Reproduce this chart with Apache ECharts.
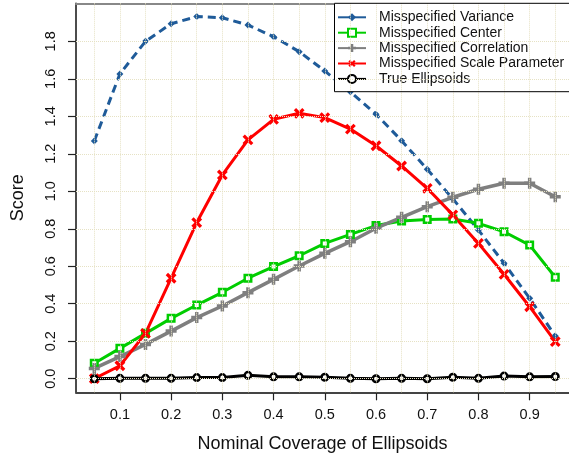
<!DOCTYPE html>
<html><head><meta charset="utf-8">
<script src="https://cdn.jsdelivr.net/npm/echarts@6/dist/echarts.min.js"></script>
<style>html,body{margin:0;padding:0;background:#fff}#c{width:569px;height:460px}</style>
</head><body><div id="c"></div>
<script>
const coverage = [0.05,0.1,0.15,0.2,0.25,0.3,0.35,0.4,0.45,0.5,0.55,0.6,0.65,0.7,0.75,0.8,0.85,0.9,0.95];
const variance = [1.268,1.626,1.800,1.894,1.932,1.926,1.887,1.825,1.745,1.642,1.531,1.411,1.270,1.117,0.96,0.793,0.616,0.429,0.228];
const center = [0.082,0.162,0.242,0.322,0.393,0.461,0.536,0.598,0.656,0.722,0.770,0.817,0.841,0.850,0.852,0.829,0.784,0.713,0.541];
const correlation = [0.055,0.118,0.183,0.254,0.326,0.388,0.459,0.530,0.601,0.669,0.731,0.803,0.861,0.918,0.968,1.011,1.043,1.043,0.971];
const scaleParam = [0.0,0.069,0.242,0.536,0.833,1.087,1.274,1.384,1.416,1.393,1.332,1.243,1.135,1.016,0.874,0.722,0.557,0.384,0.198];
const trueEll = [0.0,0.002,0.002,0.002,0.006,0.006,0.018,0.010,0.010,0.008,0.002,0.0,0.002,0.0,0.008,0.002,0.014,0.010,0.012];
const seriesNames = ['Misspecified Variance','Misspecified Center','Misspecified Correlation','Misspecified Scale Parameter','True Ellipsoids'];
const xTicks = [0.1,0.2,0.3,0.4,0.5,0.6,0.7,0.8,0.9];
const yTicks = [0.0,0.2,0.4,0.6,0.8,1.0,1.2,1.4,1.6,1.8];
const xGridLines = [0.05,0.1,0.15,0.2,0.25,0.3,0.35,0.4,0.45,0.5,0.55,0.6,0.65,0.7,0.75,0.8,0.85,0.9,0.95];

const XMIN = 0.0143, XMAX = 0.9768, YMIN = -0.0726, YMAX = 2.003;
const FONT = 'Liberation Sans, Arial, Helvetica, sans-serif';
const pts = arr => coverage.map((x, i) => [x, arr[i]]);
const plusPath = 'path://M3.75,0H7.25V11H3.75Z M0,3.75H11V7.25H0Z';
const crossPath = 'path://M4,0H7V11H4Z M0,4H11V7H0Z';

const chart = echarts.init(document.getElementById('c'), null, {renderer: 'canvas'});
chart.setOption({
  animation: false,
  backgroundColor: '#fff',
  textStyle: {fontFamily: FONT},
  grid: {left: 76, right: 0, top: 3.3, bottom: 67.7, containLabel: false},
  graphic: [{
    type: 'rect', z: 10, silent: true,
    shape: {x: 334.5, y: 3.3, width: 260, height: 88.4},
    style: {fill: 'none', stroke: '#000', lineWidth: 1}
  }],
  legend: {
    orient: 'vertical', left: 334, top: 3,
    padding: [6.8, 10, 5.2, 3],
    itemWidth: 28, itemHeight: 10, itemGap: 0.4,
    borderWidth: 0,
    backgroundColor: '#fff',
    textStyle: {fontSize: 14, color: '#111', lineHeight: 15, padding: [0, 0, 0, 8], fontFamily: FONT},
    lineStyle: {type: 'solid'},
    data: seriesNames
  },
  xAxis: [{
    type: 'value', min: XMIN, max: XMAX, position: 'bottom',
    name: 'Nominal Coverage of Ellipsoids', nameLocation: 'middle', nameGap: 43,
    nameTextStyle: {fontSize: 18, color: '#111', fontFamily: FONT},
    axisLine: {show: true, onZero: false, lineStyle: {color: '#444', width: 2}},
    axisTick: {show: true, length: 8, customValues: xTicks, lineStyle: {color: '#222', width: 1.2}},
    axisLabel: {show: true, customValues: xTicks, fontSize: 14.5, color: '#111', margin: 15,
      formatter: v => v.toFixed(1)},
    splitLine: {show: false}
  }, {
    type: 'value', min: XMIN, max: XMAX, position: 'top',
    axisLine: {show: true, onZero: false, lineStyle: {color: '#888', width: 2}},
    axisTick: {show: false}, axisLabel: {show: false}, splitLine: {show: false}
  }],
  yAxis: [{
    type: 'value', min: YMIN, max: YMAX, position: 'left',
    name: 'Score', nameLocation: 'middle', nameGap: 49, nameRotate: 90,
    nameTextStyle: {fontSize: 18, color: '#111', fontFamily: FONT},
    axisLine: {show: true, onZero: false, lineStyle: {color: '#111', width: 1.5}},
    axisTick: {show: true, length: 8, customValues: yTicks, lineStyle: {color: '#222', width: 1.2}},
    axisLabel: {show: true, customValues: yTicks, fontSize: 14.5, color: '#111', rotate: 90, margin: 18,
      formatter: v => v.toFixed(1)},
    splitLine: {show: false}
  }],
  series: [
    {
      name: seriesNames[0], type: 'line', data: pts(variance), z: 2,
      symbol: 'diamond', symbolSize: 7,
      lineStyle: {color: '#1f5b99', width: 3, type: [8, 5]},
      itemStyle: {color: '#1f5b99'}
    },
    {
      name: seriesNames[1], type: 'line', data: pts(center), z: 2,
      symbol: 'rect', symbolSize: 6.5,
      lineStyle: {color: '#00cd00', width: 3},
      itemStyle: {color: '#fff', borderColor: '#00cd00', borderWidth: 2.5}
    },
    {
      name: seriesNames[2], type: 'line', data: pts(correlation), z: 2,
      symbol: plusPath, symbolSize: 11,
      lineStyle: {color: '#7f7f7f', width: 3.5},
      itemStyle: {color: '#7f7f7f'}
    },
    {
      name: seriesNames[3], type: 'line', data: pts(scaleParam), z: 2,
      symbol: crossPath, symbolSize: 12, symbolRotate: 45,
      lineStyle: {color: '#ff0000', width: 3},
      itemStyle: {color: '#ff0000'}
    },
    {
      name: seriesNames[4], type: 'line', data: pts(trueEll), z: 2,
      symbol: 'circle', symbolSize: 6.5,
      lineStyle: {color: '#000', width: 3},
      itemStyle: {color: '#fff', borderColor: '#000', borderWidth: 2.5}
    },
    {
      name: 'grid', type: 'line', data: [], z: 1, silent: true,
      markLine: {
        silent: true, symbol: ['none', 'none'], label: {show: false}, animation: false,
        lineStyle: {type: 'dotted', color: '#e6e2c4', width: 1},
        emphasis: {disabled: true},
        data: [...xGridLines.map(v => ({xAxis: v})), ...yTicks.map(v => ({yAxis: v}))]
      }
    }
  ]
});
</script></body></html>
